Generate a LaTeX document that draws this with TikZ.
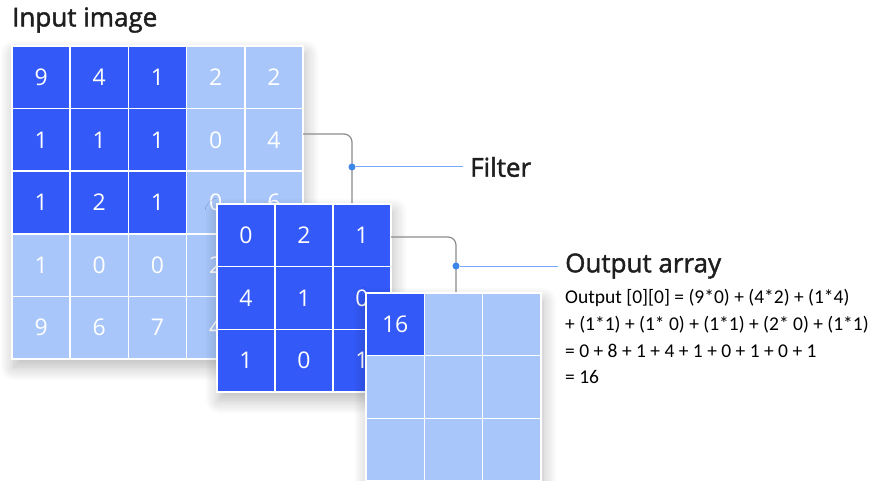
\documentclass[tikz,border=0pt]{standalone}
\usepackage{fontspec}
\setmainfont{Open Sans}
\newfontfamily\headfont[FakeBold=1.6]{Open Sans}
\newfontfamily\eqfont{Carlito}
\usetikzlibrary{positioning,shadows.blur}
\definecolor{darkcell}{HTML}{3359F8}
\definecolor{lightcell}{HTML}{A8C6FA}
\definecolor{linkgray}{HTML}{8C8C8C}
\definecolor{linkblue}{HTML}{78A9FF}
\definecolor{dotblue}{HTML}{3D85E8}
\definecolor{titletext}{HTML}{1E1E1E}
\tikzstyle{cell}=[draw=white, line width=1.5pt, minimum width=58.2pt, minimum height=62.6pt, inner sep=0, text=white, font=\fontsize{23}{23}\selectfont]
\tikzstyle{darkc}=[cell, fill=darkcell]
\tikzstyle{lightc}=[cell, fill=lightcell]
\tikzstyle{gridback}=[fill=white, blur shadow={shadow xshift=2pt, shadow yshift=-8pt, shadow blur radius=14pt, shadow blur steps=14, shadow opacity=28}]
\tikzstyle{link}=[draw=linkgray, line width=1.2pt, rounded corners=8pt]
\tikzstyle{tag}=[draw=linkblue, line width=1pt, shorten >=7pt]
\tikzstyle{joint}=[circle, fill=dotblue, inner sep=0, minimum size=7pt]
\tikzstyle{heading}=[font=\headfont\fontsize{26}{26}\selectfont, text=titletext, inner sep=0, anchor=west]
\newcommand{\cellnode}[4]{\node[#1] (#2) at (#3) {#4};}

\begin{document}
\begin{tikzpicture}[x=1pt, y=-1pt]
\useasboundingbox (0,0) rectangle (870,481);

% input image, 5x5
\node[heading] (intitle) at (12,20) {Input image};
\fill[gridback] (12,46) rectangle (303,359);
\foreach \r/\vals in {1/{9,4,1,2,2}, 2/{1,1,1,0,4}, 3/{1,2,1,0,6}, 4/{1,0,0,2,{}}, 5/{9,6,7,4,{}}}
  \foreach \v [count=\c] in \vals {
    \pgfmathsetmacro{\kind}{(\r<4 && \c<4) ? "darkc" : "lightc"}
    \cellnode{\kind}{in-\r-\c}{{12+58.2*(\c-0.5)},{46+62.6*(\r-0.5)}}{\v}
  }

% connector to the filter
\coordinate (fstart) at (303,134);
\coordinate (ftop) at (352,204);
\draw[link] (fstart) -| (ftop);

% filter, 3x3
\fill[gridback] (217,204) rectangle (391,392);
\foreach \r/\vals in {1/{0,2,1}, 2/{4,1,0}, 3/{1,0,1}}
  \foreach \v [count=\c] in \vals {
    \cellnode{darkc, minimum width=58pt, minimum height=62.7pt}{flt-\r-\c}{{217+58*(\c-0.5)},{204+62.7*(\r-0.5)}}{\v}
  }

% connector to the output
\coordinate (ostart) at (391,237);
\coordinate (otop) at (456,293);
\draw[link] (ostart) -| (otop);

% output array, 3x3
\fill[gridback] (366,293) rectangle (541,481);
\foreach \r in {1,2,3}
  \foreach \c in {1,2,3} {
    \cellnode{lightc, minimum width=58.3pt, minimum height=62.7pt}{out-\r-\c}{{366+58.3*(\c-0.5)},{293+62.7*(\r-0.5)}}{}
  }
\cellnode{darkc, minimum width=58.3pt, minimum height=62.7pt}{out-1-1}{{366+58.3*0.5},{293+62.7*0.5}}{16}

% labels
\node[joint] (fdot) at (352,167) {};
\node[heading] (ftag) at (470,167) {Filter};
\draw[tag] (fdot) -- (ftag.west);

\node[joint] (odot) at (456,266) {};
\node[heading] (otag) at (565,266) {Output array};
\draw[tag] (odot) -- (otag.west);

\node[anchor=north west, inner sep=0, align=left, font=\eqfont\fontsize{19.5}{26.8}\selectfont] (calc) at (565,289)
  {Output [0][0] = (9*0) + (4*2) + (1*4)\\
   + (1*1) + (1* 0) + (1*1) + (2* 0) + (1*1)\\
   = 0 + 8 + 1 + 4 + 1 + 0 + 1 + 0 + 1\\
   = 16};
\end{tikzpicture}
\end{document}
